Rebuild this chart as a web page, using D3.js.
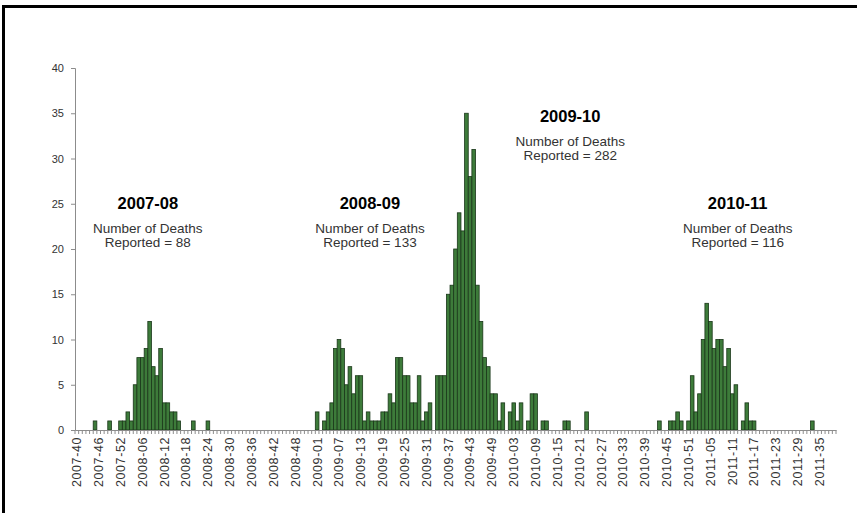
<!DOCTYPE html>
<html>
<head>
<meta charset="utf-8">
<script src="https://cdn.jsdelivr.net/npm/d3@7"></script>
<style>
  html, body { margin: 0; padding: 0; background: #fff; }
  svg { display: block; }
</style>
</head>
<body>
<svg id="chart" width="857" height="513"></svg>
<script>
// ---- DATA ----
// MMWR week ranges shown on the axis: [year, firstWeek, lastWeek]
const weekRanges = [[2007, 40, 52], [2008, 1, 53], [2009, 1, 52], [2010, 1, 52], [2011, 1, 39]];

// Weekly number of reported deaths, one array per calendar (MMWR) year
const deaths2007 = [0,0,0,0,0,1,0,0,0,1,0,0,1];
const deaths2008 = [1,2,1,5,8,8,9,12,7,6,9,3,3,2,2,1,0,0,0,1,0,0,0,1,
                    0,0,0,0,0,0,0,0,0,0,0,0,0,0,0,0,0,0,0,0,0,0,0,0,0,0,0,0,0];
const deaths2009 = [2,0,1,2,3,9,10,9,5,7,4,6,6,1,2,1,1,1,2,2,4,3,8,8,6,6,3,3,6,1,2,3,0,6,6,6,15,16,20,
                    24,22,35,28,31,16,12,8,7,4,4,1,3];
const deaths2010 = [0,2,3,1,3,0,1,4,4,0,1,1,0,0,0,0,1,1,0,0,0,0,2,
                    0,0,0,0,0,0,0,0,0,0,0,0,0,0,0,0,0,0,0,
                    1,0,0,1,1,2,1,0,1,6];
const deaths2011 = [2,4,10,14,12,9,10,10,7,9,4,5,0,1,3,1,1,
                    0,0,0,0,0,0,0,0,0,0,0,0,0,0,0,1,0,0,0,0,0,0];

// Tick labels shown on the x axis
const tickLabels = ["2007-40","2007-46","2007-52","2008-06","2008-12","2008-18","2008-24","2008-30",
  "2008-36","2008-42","2008-48","2009-01","2009-07","2009-13","2009-19","2009-25","2009-31","2009-37",
  "2009-43","2009-49","2010-03","2010-09","2010-15","2010-21","2010-27","2010-33","2010-39","2010-45",
  "2010-51","2011-05","2011-11","2011-17","2011-23","2011-29","2011-35"];
const yTicks = [0, 5, 10, 15, 20, 25, 30, 35, 40];

// Season annotations
const seasonNames = ["2007-08", "2008-09", "2009-10", "2010-11"];
const seasonTotals = [88, 133, 282, 116];
const seasonAnchorWeeks = ["2008-08", "2009-16", "2010-19", "2011-13"];
const seasonLabelValues = [25, 25, 34.6, 25];

// ---- BUILD ----
const categories = weekRanges.flatMap(([yr, a, b]) =>
  d3.range(a, b + 1).map(w => `${yr}-${String(w).padStart(2, "0")}`));
const values = [].concat(deaths2007, deaths2008, deaths2009, deaths2010, deaths2011);
const data = categories.map((c, i) => ({ week: c, value: values[i] }));

const FONT = "Liberation Sans, Arial, sans-serif";
const svg = d3.select("#chart");

// frame
svg.append("line").attr("x1", 2).attr("x2", 857).attr("y1", 6.5).attr("y2", 6.5)
  .attr("stroke", "#000").attr("stroke-width", 3);
svg.append("line").attr("x1", 3.5).attr("x2", 3.5).attr("y1", 5).attr("y2", 513)
  .attr("stroke", "#000").attr("stroke-width", 3);

const x = d3.scaleBand().domain(categories).range([75, 836]).padding(0);
const y = d3.scaleLinear().domain([0, 40]).range([430, 68]);

// bars
svg.append("g").selectAll("rect").data(data.filter(d => d.value > 0)).join("rect")
  .attr("x", d => x(d.week))
  .attr("y", d => y(d.value))
  .attr("width", x.bandwidth())
  .attr("height", d => y(0) - y(d.value))
  .attr("fill", "#3d7b3a")
  .attr("stroke", "#1a3619")
  .attr("stroke-width", 0.8);

// y axis
const yAxis = svg.append("g").attr("transform", "translate(75,0)")
  .call(d3.axisLeft(y).tickValues(yTicks).tickSize(4).tickPadding(7));
yAxis.select(".domain").attr("stroke", "#8c8c8c");
yAxis.selectAll(".tick line").attr("stroke", "#8c8c8c");
yAxis.selectAll("text").attr("font-family", FONT)
  .attr("font-size", 11).attr("fill", "#333");

// x axis
const xAxis = svg.append("g").attr("transform", "translate(0,430)")
  .call(d3.axisBottom(x).tickValues(tickLabels).tickSize(0).tickSizeOuter(0));
xAxis.select(".domain").attr("stroke", "#8c8c8c");
xAxis.selectAll("text")
  .attr("font-family", FONT)
  .attr("font-size", 12.5)
  .attr("letter-spacing", 0.6)
  .attr("fill", "#333")
  .attr("transform", "rotate(-90)")
  .attr("x", -7).attr("y", 0).attr("dy", "0.35em")
  .style("text-anchor", "end");

// weekly tick marks at category boundaries
svg.append("g").selectAll("line").data(categories.concat(["end"])).join("line")
  .attr("x1", (d, i) => i < categories.length ? x(d) : x.range()[1])
  .attr("x2", (d, i) => i < categories.length ? x(d) : x.range()[1])
  .attr("y1", 430).attr("y2", 434)
  .attr("stroke", "#8c8c8c").attr("stroke-width", 1);

// season annotations
seasonNames.forEach((s, i) => {
  const cx = x(seasonAnchorWeeks[i]);
  const top = y(seasonLabelValues[i]);
  const g = svg.append("g").attr("font-family", FONT).attr("text-anchor", "middle");
  g.append("text").attr("x", cx).attr("y", top + 5)
    .attr("font-size", 16.5).attr("font-weight", "bold").attr("fill", "#000").text(s);
  g.append("text").attr("x", cx).attr("y", top + 29)
    .attr("font-size", 13.5).attr("fill", "#333").text("Number of Deaths");
  g.append("text").attr("x", cx).attr("y", top + 43.5)
    .attr("font-size", 13.5).attr("fill", "#333").text(`Reported = ${seasonTotals[i]}`);
});
</script>
</body>
</html>
